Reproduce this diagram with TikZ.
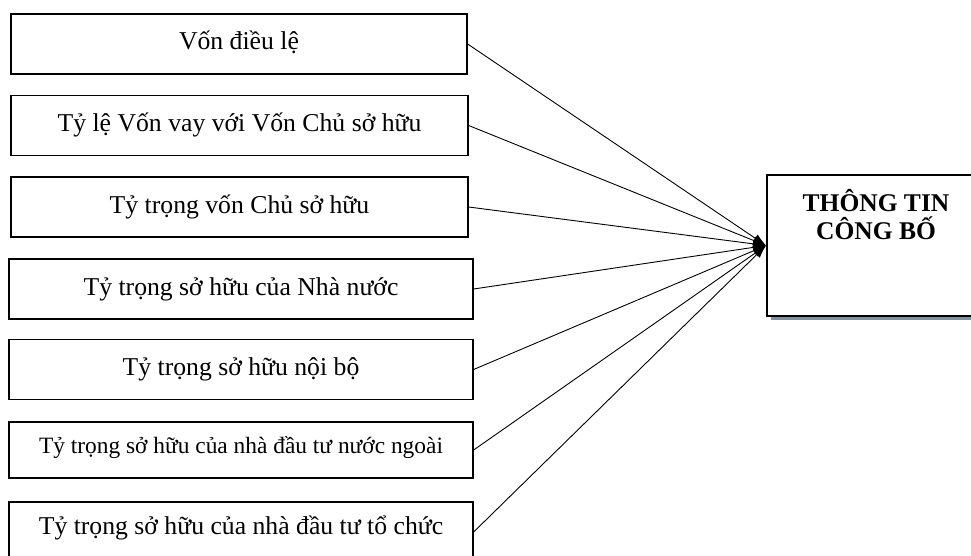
\documentclass[tikz,border=0pt]{standalone}
\usepackage{fontspec}
\setmainfont{Liberation Serif}
\usetikzlibrary{arrows.meta,shadows}
\definecolor{infoshadow}{RGB}{130,145,155}

\begin{document}
\begin{tikzpicture}[x=1pt,y=-1pt,
  factor/.style={draw,line width=1.3pt,inner sep=0pt,minimum height=60pt,
    text height=36pt,text depth=24pt,font=\fontsize{25.7}{30}\selectfont},
  result/.style={draw,line width=2pt,fill=white,inner sep=0pt,
    minimum width=218pt,minimum height=141pt,
    drop shadow={shadow xshift=4pt,shadow yshift=-4pt,fill=infoshadow,opacity=1}},
  >={Latex[length=13pt,width=9pt]}]
\clip (0,0) rectangle (971,556);
\node[factor,minimum width=456pt] (f1) at (239,44) {Vốn điều lệ};
\node[factor,minimum width=457pt] (f2) at (239.5,125.5) {Tỷ lệ Vốn vay với Vốn Chủ sở hữu};
\node[factor,minimum width=457pt] (f3) at (239.5,207) {Tỷ trọng vốn Chủ sở hữu};
\node[factor,minimum width=464pt] (f4) at (241,289) {Tỷ trọng sở hữu của Nhà nước};
\node[factor,minimum width=464pt] (f5) at (241,369.5) {Tỷ trọng sở hữu nội bộ};
\node[factor,minimum width=464pt,minimum height=56pt,text height=31pt,text depth=25pt,
  font=\fontsize{23.4}{28}\selectfont] (f6) at (241,450) {Tỷ trọng sở hữu của nhà đầu tư nước ngoài};
\node[factor,minimum width=464pt,text height=32pt,text depth=28pt] (f7) at (241,532) {Tỷ trọng sở hữu của nhà đầu tư tổ chức};

\node[result] (info) at (876,245.5) {};
\node[anchor=north,align=center,font=\bfseries\fontsize{25.5}{28}\selectfont]
  (infotxt) at ([yshift=-11.5pt]info.north) {THÔNG TIN\\CÔNG BỐ};

\path[->,line width=0.9pt]
(f1.east) edge (info.west)
(f2.east) edge (info.west)
(f3.east) edge (info.west)
(f4.east) edge (info.west)
(f5.east) edge (info.west)
(f6.east) edge (info.west)
(f7.east) edge (info.west)
;
\end{tikzpicture}
\end{document}
